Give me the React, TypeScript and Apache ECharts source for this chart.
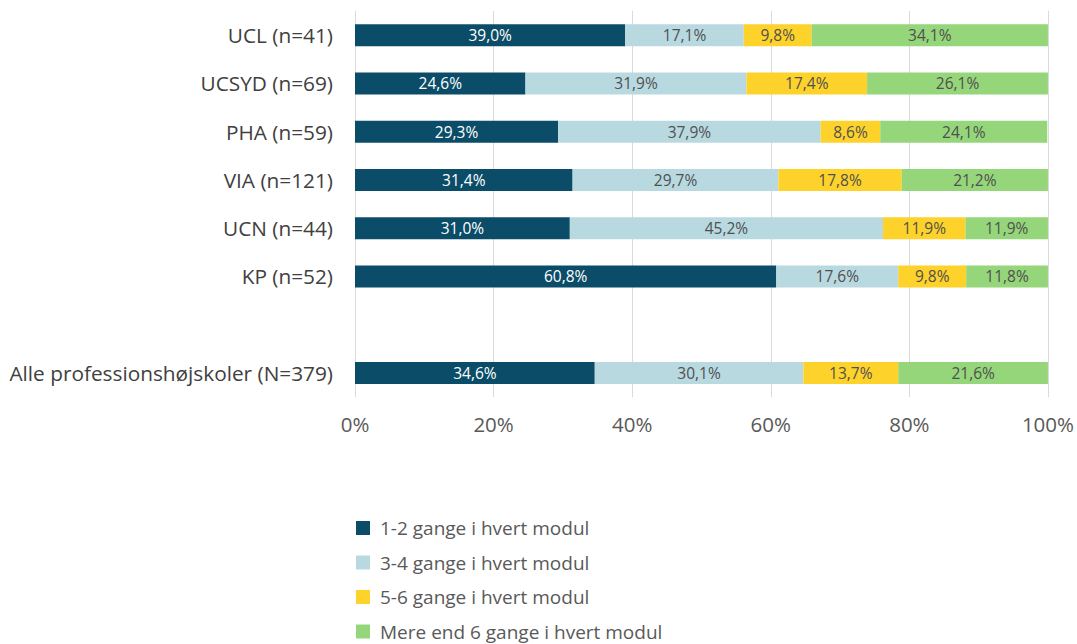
import React, { useEffect, useRef } from "react";
import * as echarts from "echarts";

const categories = [
  "UCL (n=41)",
  "UCSYD (n=69)",
  "PHA (n=59)",
  "VIA (n=121)",
  "UCN (n=44)",
  "KP (n=52)",
  "",
  "Alle professionshøjskoler (N=379)",
];
const seriesNames = [
  "1-2 gange i hvert modul",
  "3-4 gange i hvert modul",
  "5-6 gange i hvert modul",
  "Mere end 6 gange i hvert modul",
];
const s12 = [39.0, 24.6, 29.3, 31.4, 31.0, 60.8, null, 34.6];
const s34 = [17.1, 31.9, 37.9, 29.7, 45.2, 17.6, null, 30.1];
const s56 = [9.8, 17.4, 8.6, 17.8, 11.9, 9.8, null, 13.7];
const s6plus = [34.1, 26.1, 24.1, 21.2, 11.9, 11.8, null, 21.6];
const xTicks = [0, 20, 40, 60, 80, 100];

const colors = ["#0b4d68", "#b9d9e1", "#fdd22a", "#94d679"];
const labelColors = ["#ffffff", "#505050", "#505050", "#505050"];
const FONT = "Open Sans";

export default function App() {
  const ref = useRef<HTMLDivElement>(null);
  useEffect(() => {
    if (!ref.current) return;
    const chart = echarts.init(ref.current, null, { renderer: "svg" });
    const all = [s12, s34, s56, s6plus];
    chart.setOption({
      animation: false,
      backgroundColor: "#ffffff",
      textStyle: { fontFamily: FONT },
      grid: { left: 355, right: 26, top: 11, bottom: 247, containLabel: false },
      legend: {
        orient: "vertical",
        left: 351,
        top: 511,
        height: 160,
        itemWidth: 14,
        itemHeight: 14,
        itemGap: 10.5,
        icon: "rect",
        data: seriesNames,
        textStyle: {
          fontFamily: FONT,
          fontSize: 19,
          color: "#595959",
          lineHeight: 24,
          padding: [0, 0, 0, 5],
        },
      },
      xAxis: {
        type: "value",
        min: xTicks[0],
        max: xTicks[xTicks.length - 1],
        interval: 20,
        axisLine: { show: false },
        axisTick: { show: false },
        splitLine: { show: true, lineStyle: { color: "#d9d9d9", width: 1 } },
        axisLabel: {
          formatter: (v: number) => v + "%",
          fontFamily: FONT,
          fontSize: 20.5,
          color: "#595959",
          margin: 16,
        },
      },
      yAxis: {
        type: "category",
        data: categories,
        inverse: true,
        axisLine: { show: false },
        axisTick: { show: false },
        axisLabel: { fontFamily: FONT, fontSize: 20.8, color: "#404040", margin: 22 },
      },
      series: all.map((d, i) => ({
        name: seriesNames[i],
        type: "bar",
        stack: "total",
        barWidth: 22,
        data: d,
        itemStyle: { color: colors[i] },
        label: {
          show: true,
          position: "inside",
          formatter: (p: any) =>
            p.value == null ? "" : Number(p.value).toFixed(1).replace(".", ",") + "%",
          color: labelColors[i],
          fontFamily: FONT,
          fontSize: 15.5,
        },
      })),
    });
    return () => chart.dispose();
  }, []);
  return (
    <div
      ref={ref}
      style={{ position: "fixed", left: 0, top: 0, width: 1077, height: 644 }}
    />
  );
}
